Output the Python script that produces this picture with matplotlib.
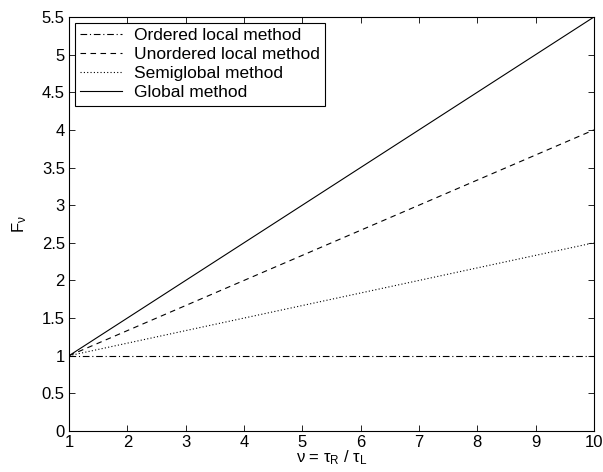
import numpy as np
import matplotlib
matplotlib.use('Agg')
import matplotlib.pyplot as plt

plt.rcParams['font.family'] = ['Liberation Sans', 'DejaVu Sans']
plt.rcParams['mathtext.fontset'] = 'custom'
plt.rcParams['mathtext.rm'] = 'Liberation Sans'
plt.rcParams['mathtext.it'] = 'Liberation Sans'

nu = [1, 10]
ordered_local = [1, 1]
unordered_local = [1, 4]
semiglobal = [1, 2.5]
global_method = [1, 5.5]

fig = plt.figure(figsize=(6.03, 4.72), dpi=100)
ax = fig.add_axes([0.1144, 0.0869, 0.8706, 0.8771])

ax.plot(nu, ordered_local, color='black', lw=0.8, linestyle=(0, (6, 2.5, 1, 2.5)), label='Ordered local method')
ax.plot(nu, unordered_local, color='black', lw=0.8, linestyle=(0, (5, 4)), label='Unordered local method')
ax.plot(nu, semiglobal, color='black', lw=0.8, linestyle=(0, (1, 2)), label='Semiglobal method')
ax.plot(nu, global_method, color='black', lw=0.8, linestyle='-', label='Global method')

ax.set_xlim(1, 10)
ax.set_ylim(0, 5.5)
ax.set_xticks(np.arange(1, 11))
ax.set_yticks(np.arange(0, 5.51, 0.5))
ax.set_yticklabels(['0', '0.5', '1', '1.5', '2', '2.5', '3', '3.5', '4', '4.5', '5', '5.5'])
ax.tick_params(direction='in', top=True, right=True, labelsize=12, length=4, width=0.6, pad=3)
for s in ax.spines.values():
    s.set_linewidth(0.8)

ax.set_xlabel('ν = τ$_\\mathrm{R}$ / τ$_\\mathrm{L}$', fontsize=12, labelpad=-1)
ax.set_ylabel('F$_\\mathrm{ν}$', fontsize=12, labelpad=9)

leg = ax.legend(loc='upper left', fontsize=12.5, fancybox=False, edgecolor='black',
                framealpha=1, borderaxespad=0.35, handlelength=2.4, labelspacing=0.22,
                borderpad=0.3, handletextpad=0.7)
leg.get_frame().set_linewidth(0.8)

fig.savefig('out.png', dpi=100)
